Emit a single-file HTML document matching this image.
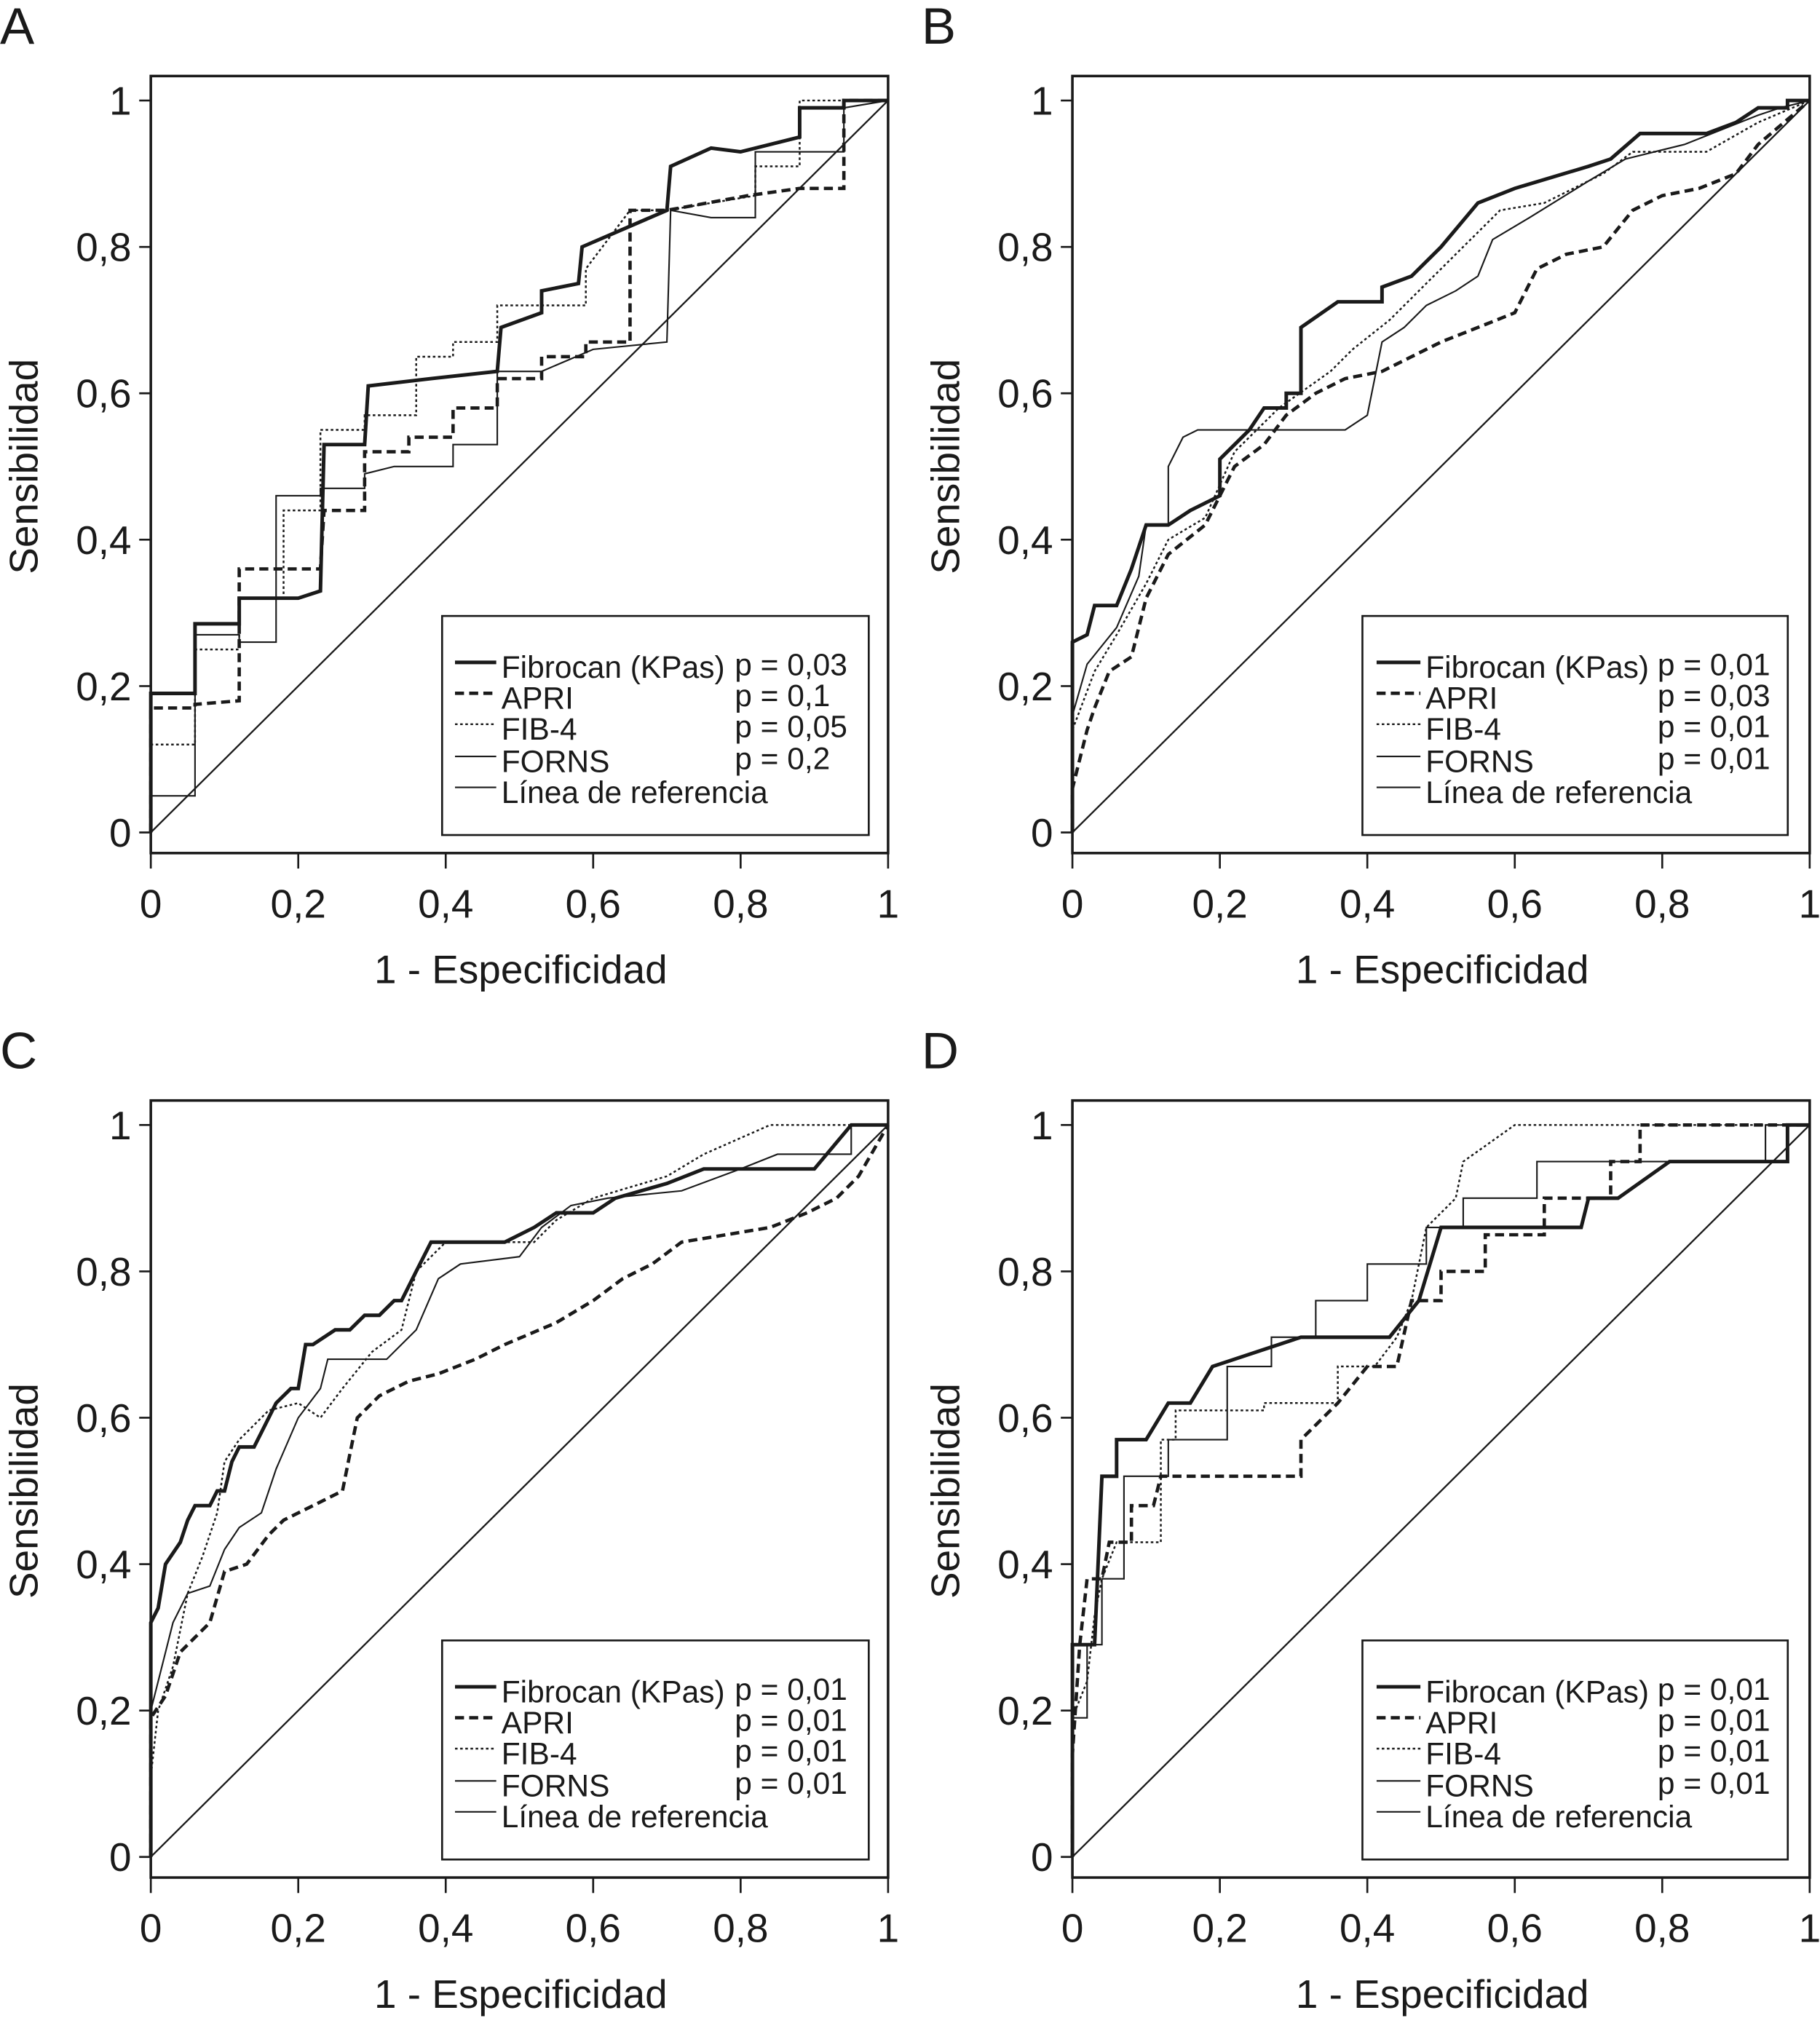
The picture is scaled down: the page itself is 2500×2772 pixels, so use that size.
<!DOCTYPE html>
<html><head><meta charset="utf-8"><style>
html,body{margin:0;padding:0;background:#fff}
svg{display:block}
text{font-family:"Liberation Sans",Arial,sans-serif;fill:#1a1a1a}
</style></head><body>
<svg id="fig" width="2500" height="2772" viewBox="0 0 1412 1566" preserveAspectRatio="none"></svg>
<script>
const panelLabels = ["A","B","C","D"];
const seriesNames = ["Fibrocan (KPas)","APRI","FIB-4","FORNS","Línea de referencia"];
const pvalsA = ["p = 0,03","p = 0,1","p = 0,05","p = 0,2"];
const pvalsB = ["p = 0,01","p = 0,03","p = 0,01","p = 0,01"];
const pvalsC = ["p = 0,01","p = 0,01","p = 0,01","p = 0,01"];
const pvalsD = ["p = 0,01","p = 0,01","p = 0,01","p = 0,01"];
const tickLabels = ["0","0,2","0,4","0,6","0,8","1"];
const tickValues = [0,0.2,0.4,0.6,0.8,1];

const A_fib = [[0,0],[0,0.19],[0.06,0.19],[0.06,0.285],[0.12,0.285],[0.12,0.32],[0.2,0.32],[0.23,0.33],[0.235,0.53],[0.29,0.53],[0.295,0.61],[0.38,0.62],[0.47,0.63],[0.475,0.69],[0.53,0.71],[0.53,0.74],[0.58,0.75],[0.585,0.8],[0.7,0.85],[0.705,0.91],[0.76,0.935],[0.8,0.93],[0.88,0.95],[0.88,0.99],[0.94,0.99],[0.94,1],[1,1]];
const A_apri = [[0,0],[0,0.17],[0.06,0.17],[0.06,0.175],[0.12,0.18],[0.12,0.36],[0.23,0.36],[0.235,0.44],[0.29,0.44],[0.29,0.52],[0.35,0.52],[0.35,0.54],[0.41,0.54],[0.41,0.58],[0.47,0.58],[0.47,0.62],[0.53,0.62],[0.53,0.65],[0.59,0.65],[0.59,0.67],[0.65,0.67],[0.65,0.85],[0.7,0.85],[0.81,0.87],[0.88,0.88],[0.94,0.88],[0.94,1],[1,1]];
const A_fib4 = [[0,0],[0,0.12],[0.06,0.12],[0.06,0.25],[0.12,0.25],[0.12,0.32],[0.18,0.32],[0.18,0.44],[0.23,0.44],[0.23,0.55],[0.29,0.55],[0.29,0.57],[0.36,0.57],[0.36,0.65],[0.41,0.65],[0.41,0.67],[0.47,0.67],[0.47,0.72],[0.59,0.72],[0.59,0.77],[0.65,0.85],[0.7,0.85],[0.76,0.86],[0.82,0.87],[0.82,0.91],[0.88,0.91],[0.88,1],[1,1]];
const A_forns = [[0,0],[0,0.05],[0.06,0.05],[0.06,0.27],[0.12,0.27],[0.12,0.26],[0.17,0.26],[0.17,0.46],[0.23,0.46],[0.23,0.47],[0.29,0.47],[0.29,0.49],[0.33,0.5],[0.41,0.5],[0.41,0.53],[0.47,0.53],[0.47,0.63],[0.53,0.63],[0.6,0.66],[0.7,0.67],[0.705,0.85],[0.76,0.84],[0.82,0.84],[0.82,0.93],[0.94,0.93],[0.94,0.99],[1,1]];

const B_fib = [[0,0],[0,0.26],[0.02,0.27],[0.03,0.31],[0.06,0.31],[0.08,0.36],[0.1,0.42],[0.13,0.42],[0.16,0.44],[0.2,0.46],[0.2,0.51],[0.24,0.55],[0.26,0.58],[0.29,0.58],[0.29,0.6],[0.31,0.6],[0.31,0.69],[0.36,0.725],[0.42,0.725],[0.42,0.745],[0.46,0.76],[0.5,0.8],[0.55,0.86],[0.6,0.88],[0.7,0.91],[0.73,0.92],[0.77,0.955],[0.86,0.955],[0.9,0.97],[0.93,0.99],[0.97,0.99],[0.97,1],[1,1]];
const B_apri = [[0,0],[0,0.06],[0.02,0.14],[0.03,0.17],[0.05,0.22],[0.08,0.24],[0.1,0.32],[0.13,0.38],[0.18,0.42],[0.22,0.5],[0.26,0.53],[0.29,0.57],[0.33,0.6],[0.37,0.62],[0.42,0.63],[0.46,0.65],[0.5,0.67],[0.55,0.69],[0.6,0.71],[0.63,0.77],[0.67,0.79],[0.72,0.8],[0.76,0.85],[0.8,0.87],[0.85,0.88],[0.9,0.9],[0.93,0.94],[1,1]];
const B_fib4 = [[0,0],[0,0.14],[0.03,0.22],[0.06,0.27],[0.1,0.34],[0.13,0.4],[0.18,0.43],[0.22,0.52],[0.28,0.58],[0.35,0.63],[0.38,0.66],[0.43,0.7],[0.47,0.74],[0.52,0.79],[0.58,0.85],[0.64,0.86],[0.72,0.9],[0.76,0.93],[0.86,0.93],[0.93,0.97],[1,1]];
const B_forns = [[0,0],[0,0.16],[0.02,0.23],[0.06,0.28],[0.09,0.35],[0.1,0.42],[0.13,0.42],[0.13,0.5],[0.15,0.54],[0.17,0.55],[0.37,0.55],[0.4,0.57],[0.42,0.67],[0.45,0.69],[0.48,0.72],[0.52,0.74],[0.55,0.76],[0.57,0.81],[0.62,0.84],[0.7,0.89],[0.75,0.92],[0.83,0.94],[0.93,0.98],[0.96,0.99],[1,1]];

const C_fib = [[0,0],[0,0.32],[0.01,0.34],[0.02,0.4],[0.04,0.43],[0.05,0.46],[0.06,0.48],[0.08,0.48],[0.09,0.5],[0.1,0.5],[0.11,0.54],[0.12,0.56],[0.14,0.56],[0.15,0.58],[0.17,0.62],[0.19,0.64],[0.2,0.64],[0.21,0.7],[0.22,0.7],[0.25,0.72],[0.27,0.72],[0.29,0.74],[0.31,0.74],[0.33,0.76],[0.34,0.76],[0.36,0.8],[0.38,0.84],[0.48,0.84],[0.52,0.86],[0.55,0.88],[0.6,0.88],[0.63,0.9],[0.7,0.92],[0.75,0.94],[0.9,0.94],[0.95,1],[1,1]];
const C_apri = [[0,0],[0,0.19],[0.02,0.22],[0.04,0.28],[0.06,0.3],[0.08,0.32],[0.1,0.39],[0.13,0.4],[0.16,0.44],[0.18,0.46],[0.22,0.48],[0.26,0.5],[0.27,0.55],[0.28,0.6],[0.31,0.63],[0.35,0.65],[0.39,0.66],[0.44,0.68],[0.48,0.7],[0.55,0.73],[0.6,0.76],[0.64,0.79],[0.68,0.81],[0.72,0.84],[0.78,0.85],[0.84,0.86],[0.89,0.88],[0.93,0.9],[0.96,0.93],[1,1]];
const C_fib4 = [[0,0],[0,0.11],[0.01,0.2],[0.03,0.26],[0.05,0.36],[0.07,0.41],[0.09,0.47],[0.1,0.54],[0.12,0.57],[0.16,0.61],[0.2,0.62],[0.23,0.6],[0.26,0.64],[0.3,0.69],[0.34,0.72],[0.36,0.8],[0.4,0.84],[0.52,0.84],[0.55,0.87],[0.6,0.9],[0.7,0.93],[0.75,0.96],[0.84,1],[1,1]];
const C_forns = [[0,0],[0,0.2],[0.03,0.32],[0.05,0.36],[0.08,0.37],[0.1,0.42],[0.12,0.45],[0.15,0.47],[0.17,0.53],[0.2,0.6],[0.23,0.64],[0.24,0.68],[0.32,0.68],[0.36,0.72],[0.39,0.79],[0.42,0.81],[0.5,0.82],[0.53,0.86],[0.57,0.89],[0.62,0.9],[0.72,0.91],[0.8,0.94],[0.85,0.96],[0.95,0.96],[0.95,1],[1,1]];

const D_fib = [[0,0],[0,0.29],[0.03,0.29],[0.04,0.52],[0.06,0.52],[0.06,0.57],[0.1,0.57],[0.13,0.62],[0.16,0.62],[0.19,0.67],[0.31,0.71],[0.43,0.71],[0.47,0.76],[0.5,0.86],[0.69,0.86],[0.7,0.9],[0.74,0.9],[0.81,0.95],[0.97,0.95],[0.97,1],[1,1]];
const D_apri = [[0,0],[0,0.14],[0.01,0.29],[0.02,0.38],[0.04,0.38],[0.05,0.43],[0.08,0.43],[0.08,0.48],[0.11,0.48],[0.12,0.52],[0.31,0.52],[0.31,0.57],[0.36,0.62],[0.4,0.67],[0.44,0.67],[0.46,0.76],[0.5,0.76],[0.5,0.8],[0.56,0.8],[0.56,0.85],[0.64,0.85],[0.64,0.9],[0.73,0.9],[0.73,0.95],[0.77,0.95],[0.77,1],[1,1]];
const D_fib4 = [[0,0],[0,0.19],[0.02,0.24],[0.03,0.33],[0.04,0.38],[0.06,0.43],[0.12,0.43],[0.12,0.57],[0.14,0.57],[0.14,0.61],[0.26,0.61],[0.26,0.62],[0.36,0.62],[0.36,0.67],[0.41,0.67],[0.44,0.71],[0.46,0.76],[0.48,0.86],[0.52,0.9],[0.53,0.95],[0.6,1],[1,1]];
const D_forns = [[0,0],[0,0.19],[0.02,0.19],[0.02,0.29],[0.04,0.29],[0.04,0.38],[0.07,0.38],[0.07,0.52],[0.13,0.52],[0.13,0.57],[0.21,0.57],[0.21,0.67],[0.27,0.67],[0.27,0.71],[0.33,0.71],[0.33,0.76],[0.4,0.76],[0.4,0.81],[0.48,0.81],[0.48,0.86],[0.53,0.86],[0.53,0.9],[0.63,0.9],[0.63,0.95],[0.94,0.95],[0.94,1],[1,1]];

const NS = "http://www.w3.org/2000/svg";
const svg = document.getElementById('fig');
function mk(tag, attrs, parent){const e=document.createElementNS(NS,tag);for(const k in attrs)e.setAttribute(k,attrs[k]);(parent||svg).appendChild(e);return e;}

const styles = [
  {w:2.8,dash:""},
  {w:2.6,dash:"7,4"},
  {w:1.4,dash:"2,2"},
  {w:1.2,dash:""}
];
const seriesKeys = ["fibrocan","apri","fib4","forns"];

const panels = [
  {label:"A",dx:0,dy:0,data:[A_fib,A_apri,A_fib4,A_forns],p:pvalsA,wide:false},
  {label:"B",dx:715,dy:0,data:[B_fib,B_apri,B_fib4,B_forns],p:pvalsB,wide:true},
  {label:"C",dx:0,dy:795,data:[C_fib,C_apri,C_fib4,C_forns],p:pvalsC,wide:false},
  {label:"D",dx:715,dy:795,data:[D_fib,D_apri,D_fib4,D_forns],p:pvalsD,wide:true}
];

panels.forEach(P=>{
  const g = mk('g',{transform:`translate(${P.dx},${P.dy})`});
  
  
  const X0=117,X1=689,Y0=646,Y1=78;
  const sx=v=>X0+v*(X1-X0), sy=v=>Y0-v*(Y0-Y1);
  const lab = mk('text',{x:0,y:34,'font-size':40},g); lab.textContent=P.label;
   
  const frame = mk('rect',{x:117,y:59,width:572,height:603,fill:'none',stroke:'#1a1a1a','stroke-width':2},g);
   
  tickValues.forEach((t,i)=>{
    mk('line',{x1:108,x2:117,y1:sy(t),y2:sy(t),stroke:'#1a1a1a','stroke-width':1.5},g);
    const yt=mk('text',{x:102,y:sy(t)+11,'font-size':31,'text-anchor':'end'},g); yt.textContent=tickLabels[i];
     
    mk('line',{x1:sx(t),x2:sx(t),y1:662,y2:674,stroke:'#1a1a1a','stroke-width':1.5},g);
    const xt=mk('text',{x:sx(t),y:712,'font-size':31,'text-anchor':'middle'},g); xt.textContent=tickLabels[i];
     
  });
  const xtl=mk('text',{x:404,y:763,'font-size':31,'text-anchor':'middle'},g); xtl.textContent="1 - Especificidad";
   
  const ytl=mk('text',{x:0,y:0,'font-size':31,'text-anchor':'middle',transform:'translate(29,362) rotate(-90)'},g); ytl.textContent="Sensibilidad";
   
  const ref=mk('line',{x1:sx(0),y1:sy(0),x2:sx(1),y2:sy(1),stroke:'#1a1a1a','stroke-width':1.3},g);
   
  P.data.forEach((d,i)=>{
    const pts=d.map(p=>sx(p[0]).toFixed(1)+','+sy(p[1]).toFixed(1)).join(' ');
    const pl=mk('polyline',{points:pts,fill:'none',stroke:'#1a1a1a','stroke-width':styles[i].w,'stroke-dasharray':styles[i].dash,'stroke-linejoin':'miter'},g);
    
    
  });
  const lg=mk('g',{},g);
   
  const lx=P.wide?342:343, lw=P.wide?330:331;
  mk('rect',{x:lx,y:478,width:lw,height:170,fill:'#fff',stroke:'#1a1a1a','stroke-width':1.5},lg);
  const lineX1=353, lineX2=P.wide?387:385, tx=P.wide?391:389, px=P.wide?571:570;
  const rowsY=[518,542,566,591,615];
  seriesNames.forEach((nm,i)=>{
    const st=i<4?styles[i]:{w:1.2,dash:""};
    mk('line',{x1:lineX1,x2:lineX2,y1:rowsY[i]-4,y2:rowsY[i]-4,stroke:'#1a1a1a','stroke-width':st.w,'stroke-dasharray':st.dash},lg);
    const t=mk('text',{x:tx,y:rowsY[i]+8,'font-size':24},lg); t.textContent=nm;
     
    if(i<4){const pt=mk('text',{x:px,y:rowsY[i]+6,'font-size':24},lg); pt.textContent=P.p[i];
       }
  });
});
</script>
</body></html>
